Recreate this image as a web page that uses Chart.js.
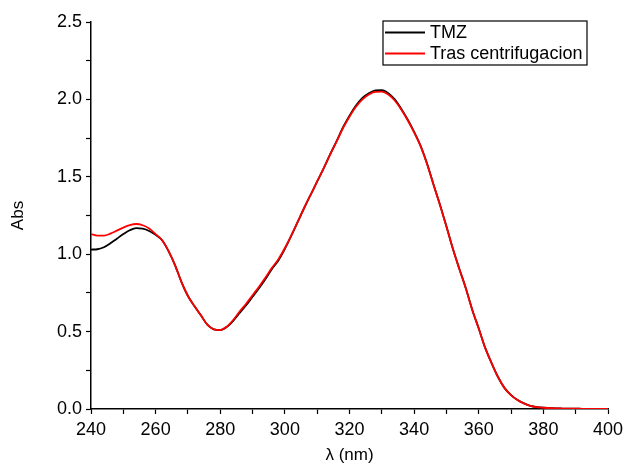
<!DOCTYPE html>
<html>
<head>
<meta charset="utf-8">
<script src="https://cdn.jsdelivr.net/npm/chart.js@4"></script>
<style>
  html, body { margin: 0; padding: 0; background: #fff; }
  #wrap { width: 624px; height: 470px; }
</style>
</head>
<body>
<div id="wrap"><canvas id="spectrum" width="624" height="470"></canvas></div>
<script>
// UV-Vis spectra, absorbance every 2 nm
const wavelengths = [];
for (let w = 240; w <= 400; w += 2) wavelengths.push(w);

const tmzAbs = [
    1.03, 1.032, 1.045, 1.07, 1.10, 1.13, 1.155, 1.168, 1.165, 1.15,  // 240-258
    1.125, 1.09, 1.02, 0.93, 0.82, 0.73, 0.665, 0.605, 0.545, 0.515,  // 260-278
    0.51, 0.53, 0.57, 0.62, 0.67, 0.725, 0.78, 0.84, 0.905, 0.96,     // 280-298
    1.035, 1.12, 1.21, 1.30, 1.385, 1.47, 1.555, 1.645, 1.73, 1.82,   // 300-318
    1.895, 1.96, 2.01, 2.04, 2.058, 2.06, 2.04, 2.0, 1.94, 1.87,      // 320-338
    1.79, 1.70, 1.585, 1.45, 1.32, 1.18, 1.035, 0.905, 0.78, 0.64,    // 340-358
    0.52, 0.395, 0.295, 0.205, 0.135, 0.09, 0.058, 0.036, 0.02, 0.012, // 360-378
    0.008, 0.006, 0.004, 0.003, 0.002, 0.002, 0.001, 0.001, 0.001, 0.001, // 380-398
    0.0
];

const trasAbs = [
    1.13, 1.12, 1.12, 1.133, 1.152, 1.172, 1.188, 1.195, 1.187, 1.166,
    1.13, 1.09, 1.02, 0.93, 0.82, 0.73, 0.665, 0.605, 0.545, 0.515,
    0.51, 0.532, 0.575, 0.63, 0.68, 0.735, 0.79, 0.85, 0.912, 0.968,
    1.04, 1.122, 1.21, 1.30, 1.385, 1.47, 1.555, 1.643, 1.727, 1.815,
    1.888, 1.952, 2.0, 2.032, 2.048, 2.05, 2.032, 1.993, 1.935, 1.865,
    1.787, 1.698, 1.583, 1.449, 1.318, 1.178, 1.034, 0.904, 0.779, 0.64,
    0.52, 0.395, 0.295, 0.205, 0.135, 0.09, 0.058, 0.036, 0.02, 0.012,
    0.008, 0.006, 0.004, 0.003, 0.002, 0.002, 0.001, 0.001, 0.001, 0.001,
    0.0
];

const seriesNames = ['TMZ', 'Tras centrifugacion'];
const seriesColors = ['#000000', '#ff0000'];

const xTicks = [240, 260, 280, 300, 320, 340, 360, 380, 400];
const yTicks = [0.0, 0.5, 1.0, 1.5, 2.0, 2.5];

const FONT = "'Liberation Sans', Arial, sans-serif";

function toPoints(values) {
    return wavelengths.map((w, i) => ({ x: w, y: values[i] }));
}

// legend box drawn inside the plot, like the original
const boxLegend = {
    id: 'boxLegend',
    afterDraw(chart) {
        const ctx = chart.ctx;
        const left = 383, top = 21, width = 204, height = 44;
        ctx.save();
        ctx.fillStyle = '#fff';
        ctx.fillRect(left, top, width, height);
        ctx.strokeStyle = '#000';
        ctx.lineWidth = 1.2;
        ctx.strokeRect(left, top, width, height);
        ctx.font = '18px ' + FONT;
        ctx.textBaseline = 'middle';
        chart.data.datasets.forEach((ds, i) => {
            const y = top + 11.5 + i * 21;
            ctx.strokeStyle = ds.borderColor;
            ctx.lineWidth = 1.8;
            ctx.beginPath();
            ctx.moveTo(left + 2, y);
            ctx.lineTo(left + 42, y);
            ctx.stroke();
            ctx.fillStyle = '#000';
            ctx.fillText(ds.label, left + 47, y + 1);
        });
        ctx.restore();
    }
};

const ctx = document.getElementById('spectrum').getContext('2d');

new Chart(ctx, {
    type: 'line',
    data: {
        datasets: seriesNames.map((name, i) => ({
            label: name,
            data: toPoints(i === 0 ? tmzAbs : trasAbs),
            borderColor: seriesColors[i],
            borderWidth: 1.8,
            pointRadius: 0,
            fill: false,
            order: 2 - i, // red drawn over black
            cubicInterpolationMode: 'monotone'
        }))
    },
    options: {
        responsive: false,
        animation: false,
        layout: { padding: { top: 22, right: 16, left: 0, bottom: 0 } },
        plugins: {
            legend: { display: false },
            tooltip: { enabled: false }
        },
        scales: {
            x: {
                type: 'linear',
                min: 240,
                max: 400,
                border: { color: '#000', width: 1.5 },
                grid: { drawOnChartArea: false, tickLength: 5, tickColor: '#000', tickWidth: 1.2 },
                ticks: {
                    stepSize: 10,
                    autoSkip: false,
                    maxRotation: 0,
                    padding: 5,
                    color: '#000',
                    font: { family: FONT, size: 18 },
                    callback: v => xTicks.includes(v) ? String(v) : ''
                },
                title: {
                    display: true,
                    text: 'λ (nm)',
                    color: '#000',
                    font: { family: FONT, size: 17 },
                    padding: { top: 0, bottom: 4 }
                },
                afterFit: scale => {
                    scale.height = 61;
                    // let layout.padding decide the plot edges, not label overhang
                    scale.paddingLeft = 0;
                    scale.paddingRight = 0;
                }
            },
            y: {
                min: 0,
                max: 2.5,
                border: { color: '#000', width: 1.5 },
                grid: { drawOnChartArea: false, tickLength: 5, tickColor: '#000', tickWidth: 1.2 },
                ticks: {
                    stepSize: 0.25,
                    autoSkip: false,
                    padding: 4,
                    color: '#000',
                    font: { family: FONT, size: 18 },
                    callback: v => yTicks.some(t => Math.abs(t - v) < 1e-6) ? v.toFixed(1) : ''
                },
                title: {
                    display: true,
                    text: 'Abs',
                    color: '#000',
                    font: { family: FONT, size: 17 },
                    padding: { top: 8, bottom: 0 }
                },
                afterFit: scale => { scale.width = 91; }
            }
        }
    },
    plugins: [boxLegend]
});
</script>
</body>
</html>
